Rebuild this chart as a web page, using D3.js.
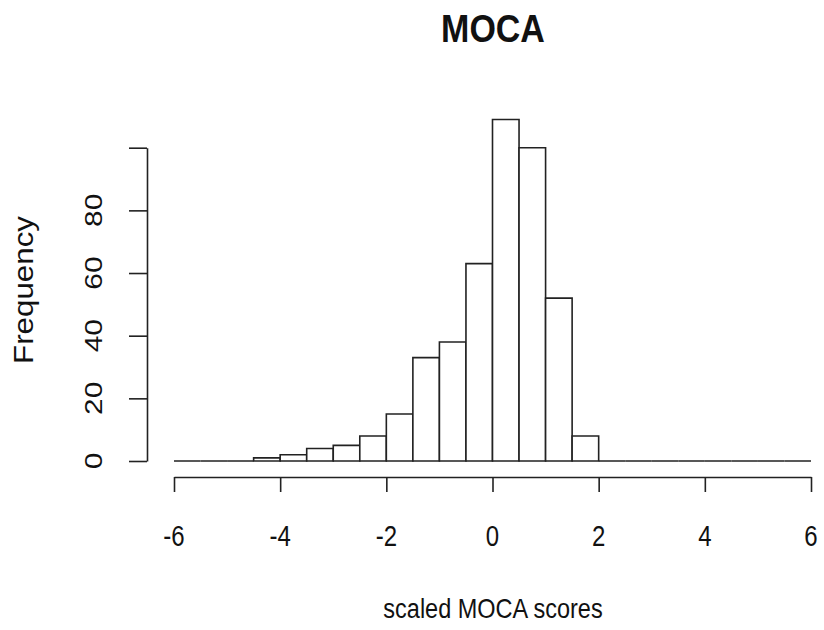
<!DOCTYPE html>
<html>
<head>
<meta charset="utf-8">
<script src="https://cdn.jsdelivr.net/npm/d3@7/dist/d3.min.js"></script>
<style>
  html, body { margin: 0; padding: 0; background: #fff; }
  svg { display: block; }
  text { font-family: "Liberation Sans", Arial, Helvetica, sans-serif; fill: #111; }
</style>
</head>
<body>
<svg id="chart" width="824" height="630"></svg>
<script>
// Histogram of scaled MOCA scores, bins of width 0.5
const binEdges = [-6, -5.5, -5, -4.5, -4, -3.5, -3, -2.5, -2, -1.5, -1, -0.5,
                  0, 0.5, 1, 1.5, 2, 2.5, 3, 3.5, 4, 4.5, 5, 5.5, 6];
const binCounts = [0, 0, 0, 1, 2, 4, 5, 8, 15, 33, 38, 63,
                   109, 100, 52, 8, 0, 0, 0, 0, 0, 0, 0, 0];
const xTicks = [-6, -4, -2, 0, 2, 4, 6];
const yTicks = [0, 20, 40, 60, 80, 100];
const yTickLabels = ["0", "20", "40", "60", "80", ""];
const titleText = "MOCA";
const xLabelText = "scaled MOCA scores";
const yLabelText = "Frequency";

const bins = binCounts.map((c, i) => ({ x0: binEdges[i], x1: binEdges[i + 1], count: c }));

const svg = d3.select("#chart");
const x = d3.scaleLinear().domain([-6, 6]).range([174, 811]);
const y = d3.scaleLinear().domain([0, 100]).range([461, 147.7]);

const ink = "#222";
const lw = 1.6;

// bars as closed outlines, so empty bins still show along the baseline
svg.append("g")
  .selectAll("path")
  .data(bins)
  .join("path")
  .attr("d", d => {
    const p = d3.path();
    p.moveTo(x(d.x0), y(0));
    p.lineTo(x(d.x0), y(d.count));
    p.lineTo(x(d.x1), y(d.count));
    p.lineTo(x(d.x1), y(0));
    p.closePath();
    return p.toString();
  })
  .attr("fill", "#fff")
  .attr("stroke", ink)
  .attr("stroke-width", lw)
  .attr("stroke-linejoin", "miter");

// x axis
const xAxis = svg.append("g")
  .attr("transform", "translate(0,477)")
  .call(d3.axisBottom(x).tickValues(xTicks).tickSize(15).tickSizeOuter(0).tickFormat(""));
xAxis.select(".domain").attr("stroke", ink).attr("stroke-width", lw);
xAxis.selectAll(".tick line").attr("stroke", ink).attr("stroke-width", lw);

svg.append("g").selectAll("text")
  .data(xTicks)
  .join("text")
  .attr("text-anchor", "middle")
  .attr("font-size", 24)
  .attr("transform", d => `translate(${x(d)},546) scale(1,1.25)`)
  .text(d => d < 0 ? "-" + Math.abs(d) : String(d));

// y axis
const yAxis = svg.append("g")
  .attr("transform", "translate(147,0)")
  .call(d3.axisLeft(y).tickValues(yTicks).tickSize(18).tickSizeOuter(0).tickFormat(""));
yAxis.select(".domain").attr("stroke", ink).attr("stroke-width", lw);
yAxis.selectAll(".tick line").attr("stroke", ink).attr("stroke-width", lw);

svg.append("g").selectAll("text")
  .data(yTicks)
  .join("text")
  .attr("text-anchor", "middle")
  .attr("font-size", 23)
  .attr("transform", d => `translate(102,${y(d)}) scale(1,1.3) rotate(-90)`)
  .text((d, i) => yTickLabels[i]);

// titles
svg.append("text")
  .attr("text-anchor", "middle")
  .attr("font-size", 34)
  .attr("font-weight", "bold")
  .attr("transform", "translate(493,42) scale(1,1.12)")
  .text(titleText);

svg.append("text")
  .attr("text-anchor", "middle")
  .attr("font-size", 23.5)
  .attr("transform", "translate(493,618) scale(1,1.18)")
  .text(xLabelText);

svg.append("text")
  .attr("text-anchor", "middle")
  .attr("font-size", 27)
  .attr("transform", "translate(33,290) scale(1,1.16) rotate(-90)")
  .text(yLabelText);
</script>
</body>
</html>
